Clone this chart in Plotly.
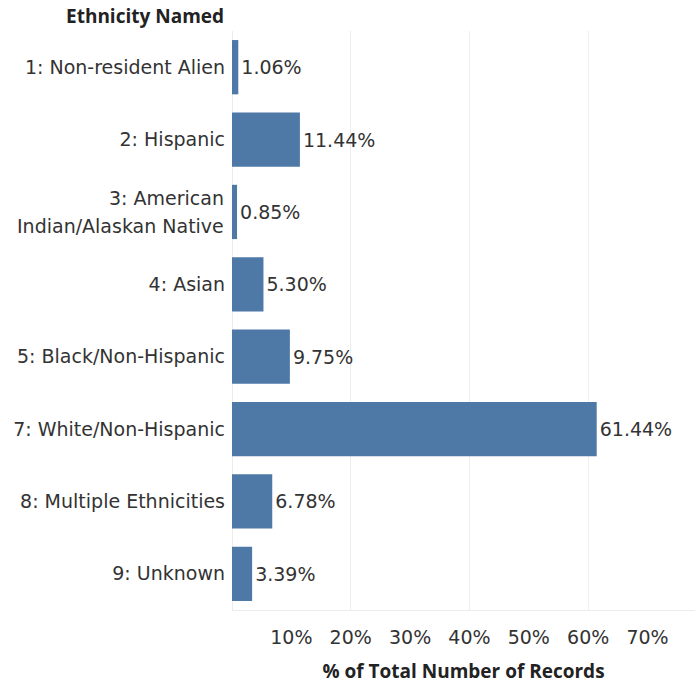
import plotly.graph_objects as go

categories = ["1: Non-resident Alien", "2: Hispanic", "3: American Indian/Alaskan Native",
              "4: Asian", "5: Black/Non-Hispanic", "7: White/Non-Hispanic",
              "8: Multiple Ethnicities", "9: Unknown"]
tick_labels = ["1: Non-resident Alien", "2: Hispanic", "",
               "4: Asian", "5: Black/Non-Hispanic", "7: White/Non-Hispanic",
               "8: Multiple Ethnicities", "9: Unknown"]
wrapped_label = ["3: American", "Indian/Alaskan Native"]
values = [1.06, 11.44, 0.85, 5.30, 9.75, 61.44, 6.78, 3.39]
tick_vals = [10, 20, 30, 40, 50, 60, 70]
tick_text = ["10%", "20%", "30%", "40%", "50%", "60%", "70%"]
grid_vals = [20, 40, 60]

FONT = "DejaVu Sans"
BFONT = "Open Sans"
SZ = 19
TXT = "#333333"
fig = go.Figure(go.Bar(
    x=values, y=categories, orientation="h",
    marker=dict(color="#4e79a7", line=dict(width=0)),
    text=[f"{v:.2f}%" for v in values], textposition="outside",
    textfont=dict(family=FONT, size=SZ, color=TXT),
    cliponaxis=False, hoverinfo="skip",
))
annots = [dict(text="<b>Ethnicity Named</b>", xref="paper", yref="paper",
               x=0, y=1, xanchor="right", yanchor="bottom", xshift=-6, yshift=0,
               showarrow=False, font=dict(family=BFONT, size=SZ, color="#222222"))]
for i, line in enumerate(wrapped_label):
    annots.append(dict(text=line, xref="paper", yref="y", x=0, y=categories[2],
                       xanchor="right", yanchor="middle", xshift=-6,
                       yshift=14 if i == 0 else -14, showarrow=False,
                       font=dict(family=FONT, size=SZ, color=TXT)))
fig.update_layout(
    width=699, height=684,
    margin=dict(l=232, r=4, t=31, b=74),
    plot_bgcolor="white", paper_bgcolor="white",
    bargap=0.25, showlegend=False,
    font=dict(family=FONT, size=SZ, color=TXT),
    xaxis=dict(range=[0, 78], tickvals=tick_vals, ticktext=tick_text,
               automargin=False,
               showgrid=False, zeroline=True, zerolinecolor="#ececec", zerolinewidth=1,
               showline=True, linecolor="#ececec", linewidth=1,
               ticks="", tickfont=dict(family=FONT, size=SZ, color=TXT),
               ticklabelstandoff=10,
               minor=dict(tickvals=grid_vals, showgrid=True, gridcolor="#eeeeee", gridwidth=1),
               title=dict(text="<b>% of Total Number of Records</b>", standoff=17,
                          font=dict(family=BFONT, size=SZ, color="#222222")),
               fixedrange=True),
    yaxis=dict(autorange="reversed", showgrid=False, ticks="", ticklabelstandoff=6,
               tickvals=categories, ticktext=tick_labels,
               automargin=False,
               tickfont=dict(family=FONT, size=SZ, color=TXT), fixedrange=True),
    annotations=annots,
)
fig.write_html("out.html", config={"displayModeBar": False},
               post_script="document.body.style.margin='0';document.body.style.overflow='hidden';")
